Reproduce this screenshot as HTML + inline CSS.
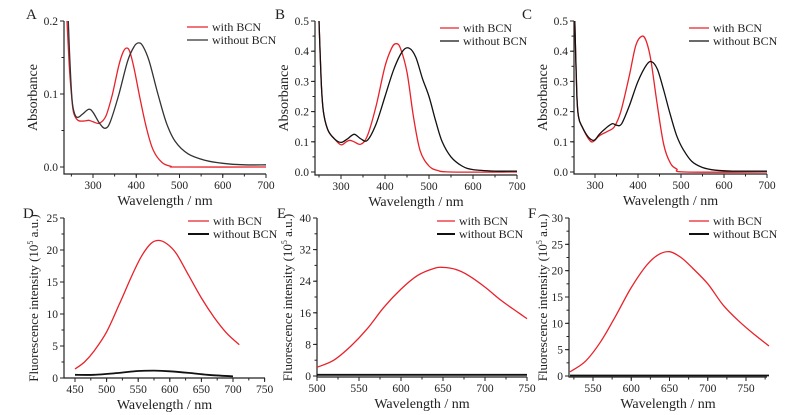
<!DOCTYPE html>
<html><head><meta charset="utf-8"><style>
html,body{margin:0;padding:0;background:#fff}
svg{display:block;font-family:"Liberation Serif","DejaVu Serif",serif}
svg text{font-family:"Liberation Serif","DejaVu Serif",serif;fill:#222}
</style></head><body>
<svg id="fig" width="791" height="415" viewBox="0 0 791 415" font-family="Liberation Serif, serif" xmlns="http://www.w3.org/2000/svg"></svg>
<script>
// ---- data (wavelength nm, value) ----
const aWl_with=[240,245,250,255,265,280,290,300,315,330,345,360,370,378,385,395,410,425,440,460,480,500,700];
const aAbs_with=[0.2,0.14,0.1,0.075,0.064,0.063,0.064,0.062,0.06,0.07,0.1,0.14,0.158,0.163,0.158,0.135,0.09,0.05,0.022,0.006,0.001,0,0];
const aWl_without=[243,247,252,258,265,275,290,300,315,328,340,360,380,395,405,415,430,450,470,490,520,560,600,650,700];
const aAbs_without=[0.2,0.14,0.09,0.072,0.068,0.072,0.079,0.075,0.06,0.053,0.062,0.1,0.145,0.165,0.17,0.166,0.145,0.1,0.06,0.035,0.018,0.009,0.005,0.003,0.003];
const bWl_with=[250,255,260,270,285,300,312,320,330,345,360,380,400,415,425,435,450,465,480,500,520,550,700];
const bAbs_with=[0.5,0.3,0.2,0.14,0.11,0.09,0.1,0.105,0.1,0.092,0.12,0.22,0.35,0.41,0.425,0.41,0.33,0.18,0.07,0.02,0.005,0,0];
const bWl_without=[250,255,260,270,285,300,315,330,345,360,380,400,420,440,455,470,485,500,515,530,550,575,600,650,700];
const bAbs_without=[0.5,0.3,0.2,0.14,0.11,0.098,0.11,0.125,0.11,0.105,0.16,0.25,0.34,0.4,0.41,0.38,0.31,0.25,0.17,0.1,0.05,0.02,0.008,0.003,0.003];
const cWl_with=[253,258,262,270,285,295,310,330,345,360,380,395,410,420,430,445,460,475,490,510,700];
const cAbs_with=[0.5,0.25,0.18,0.15,0.11,0.1,0.12,0.135,0.15,0.2,0.32,0.42,0.45,0.43,0.37,0.22,0.09,0.03,0.01,0,0];
const cWl_without=[253,258,262,270,285,298,310,325,340,350,362,380,400,420,432,445,460,475,490,505,525,550,580,620,700];
const cAbs_without=[0.5,0.25,0.18,0.15,0.115,0.105,0.125,0.145,0.16,0.155,0.16,0.22,0.3,0.355,0.365,0.34,0.27,0.19,0.12,0.075,0.035,0.015,0.006,0.003,0.003];
const dWl_with=[450,465,480,500,520,540,555,570,582,595,610,630,650,670,690,710];
const dFl_with=[1.4,2.5,4.2,7.2,11.5,16,19,21,21.5,21,19.5,16,12.5,9.5,7,5.2];
const dWl_without=[450,480,520,550,575,600,630,660,700];
const dFl_without=[0.5,0.5,0.8,1.1,1.15,1.05,0.8,0.5,0.25];
const eWl_with=[500,520,540,560,580,600,620,640,650,665,680,700,720,740,750];
const eFl_with=[2.2,4,7.5,12,17.5,22,25.5,27.3,27.5,27,25.5,22.5,19,16,14.5];
const eWl_without=[500,750];
const eFl_without=[0.3,0.3];
const fWl_with=[520,540,560,580,600,620,635,650,665,680,700,720,740,760,780];
const fFl_with=[0.8,2.8,6.5,11.5,16.8,21,23,23.6,22.5,20.5,17.5,13.5,10.5,8,5.7];
const fWl_without=[520,780];
const fFl_without=[0.1,0.1];
const absTicksA=[0,0.1,0.2];
const absTicksBC=[0,0.1,0.2,0.3,0.4,0.5];
const wlTicksABC=[300,400,500,600,700];
const flTicksD=[0,5,10,15,20,25];
const flTicksE=[0,8,16,24,32,40];
const flTicksF=[0,5,10,15,20,25,30];
const wlTicksD=[450,500,550,600,650,700,750];
const wlTicksE=[500,550,600,650,700,750];
const wlTicksF=[550,600,650,700,750];

const NS="http://www.w3.org/2000/svg";
const svg=document.getElementById('fig');
function mk(tag,attrs,parent){const e=document.createElementNS(NS,tag);for(const k in attrs)e.setAttribute(k,attrs[k]);(parent||svg).appendChild(e);return e;}
function smooth(pts){let d='M'+pts[0][0].toFixed(1)+','+pts[0][1].toFixed(1);
 for(let i=0;i<pts.length-1;i++){const p0=pts[i-1]||pts[i],p1=pts[i],p2=pts[i+1],p3=pts[i+2]||p2;
  const c1=[p1[0]+(p2[0]-p0[0])/6,p1[1]+(p2[1]-p0[1])/6],c2=[p2[0]-(p3[0]-p1[0])/6,p2[1]-(p3[1]-p1[1])/6];
  d+=' C'+c1[0].toFixed(1)+','+c1[1].toFixed(1)+' '+c2[0].toFixed(1)+','+c2[1].toFixed(1)+' '+p2[0].toFixed(1)+','+p2[1].toFixed(1);}
 return d;}

const panels=[
 {id:'a',letter:'A',lx:26,ly:19,ax:64,ay:174,top:21,right:266,xa:[300,93,700,266],ya:[0,167,0.2,21],xt:wlTicksABC,xm:50,yt:absTicksA,ym:0.05,dec:1,ylab:'Absorbance',ylx:37,leg:[187,211],legy:27,
  s:[[aWl_with,aAbs_with,'#e8222a'],[aWl_without,aAbs_without,'#333']],blk:'#333'},
 {id:'b',letter:'B',lx:275,ly:19,ax:315,ay:175,top:21,right:517,xa:[300,341,700,517],ya:[0,172,0.5,21],xt:wlTicksABC,xm:50,yt:absTicksBC,ym:0.05,dec:1,ylab:'Absorbance',ylx:288,leg:[440,462],legy:28,
  s:[[bWl_with,bAbs_with,'#e8222a'],[bWl_without,bAbs_without,'#111']],blk:'#111'},
 {id:'c',letter:'C',lx:522,ly:19,ax:574,ay:174,top:21,right:767,xa:[300,595,700,767],ya:[0,172,0.5,21],xt:wlTicksABC,xm:50,yt:absTicksBC,ym:0.05,dec:1,ylab:'Absorbance',ylx:547,leg:[689,712],legy:28,
  s:[[cWl_with,cAbs_with,'#e8222a'],[cWl_without,cAbs_without,'#111']],blk:'#111'},
 {id:'d',letter:'D',lx:23,ly:218,ax:64,ay:378,top:218,right:265,xa:[450,75,700,233],ya:[0,378,25,218],xt:wlTicksD,xm:25,yt:flTicksD,ym:2.5,dec:0,ylab:'fl',ylx:38,leg:[188,212],legy:221,
  s:[[dWl_with,dFl_with,'#e8222a'],[dWl_without,dFl_without,'#111']],blk:'#111'},
 {id:'e',letter:'E',lx:277,ly:218,ax:317,ay:377,top:218,right:527,xa:[500,317,750,527],ya:[0,376,40,218],xt:wlTicksE,xm:25,yt:flTicksE,ym:4,dec:0,ylab:'fl',ylx:292,leg:[437,458],legy:221,
  s:[[eWl_with,eFl_with,'#e8222a'],[eWl_without,eFl_without,'#111']],blk:'#111'},
 {id:'f',letter:'F',lx:528,ly:218,ax:569,ay:377,top:218,right:767,xa:[550,593,750,746],ya:[0,376,30,218],xt:wlTicksF,xm:25,yt:flTicksF,ym:2.5,dec:0,ylab:'fl',ylx:547,leg:[689,712],legy:221,
  s:[[fWl_with,fFl_with,'#e8222a'],[fWl_without,fFl_without,'#111']],blk:'#111'}
];

panels.forEach(p=>{
 const g=mk('g',{});
 
 
 const X=v=>p.xa[1]+(v-p.xa[0])*(p.xa[3]-p.xa[1])/(p.xa[2]-p.xa[0]);
 const Y=v=>p.ya[1]+(v-p.ya[0])*(p.ya[3]-p.ya[1])/(p.ya[2]-p.ya[0]);
 const lt=mk('text',{x:p.lx,y:p.ly,'font-size':15},g);lt.textContent=p.letter;
 
 
 const axes=mk('path',{d:`M${p.ax},${p.top}V${p.ay}H${p.right}`,stroke:'#222','stroke-width':1.2,fill:'none'},g);
 
 
 const xv0=p.xa[0]+(p.ax-p.xa[1])*(p.xa[2]-p.xa[0])/(p.xa[3]-p.xa[1]);
 const xv1=p.xa[0]+(p.right-p.xa[1])*(p.xa[2]-p.xa[0])/(p.xa[3]-p.xa[1]);
 for(let v=Math.ceil(xv0/p.xm)*p.xm;v<=xv1+0.01;v+=p.xm){mk('line',{x1:X(v),x2:X(v),y1:p.ay,y2:p.ay+2.5,stroke:'#222','stroke-width':1},g);}
 p.xt.forEach(v=>{mk('line',{x1:X(v),x2:X(v),y1:p.ay,y2:p.ay+4,stroke:'#222','stroke-width':1},g);
  const t=mk('text',{x:X(v),y:p.ay+15,'font-size':11.5,'text-anchor':'middle'},g);t.textContent=v;
  
  });
 const yv1=p.ya[0]+(p.top-p.ya[1])*(p.ya[2]-p.ya[0])/(p.ya[3]-p.ya[1]);
 for(let v=0;v<=yv1+1e-6;v+=p.ym){mk('line',{x1:p.ax-2.5,x2:p.ax,y1:Y(v),y2:Y(v),stroke:'#222','stroke-width':1},g);}
 p.yt.forEach(v=>{mk('line',{x1:p.ax-4,x2:p.ax,y1:Y(v),y2:Y(v),stroke:'#222','stroke-width':1},g);
  const t=mk('text',{x:p.ax-6,y:Y(v)+4,'font-size':11.5,'text-anchor':'end'},g);t.textContent=v.toFixed(p.dec);
  
  });
 const cx=(p.ax+p.right)/2, cy=(p.top+p.ay)/2;
 const xt=mk('text',{x:cx,y:p.ay+31,'font-size':14,'text-anchor':'middle'},g);xt.textContent='Wavelength / nm';
 
 
 const yt=mk('text',{x:p.ylx,y:cy,'font-size':14,'text-anchor':'middle',transform:`rotate(-90 ${p.ylx} ${cy})`},g);
 
 
 if(p.ylab==='fl'){yt.setAttribute('font-size',13);yt.innerHTML='Fluorescence intensity (10<tspan dy="-5" font-size="8">5</tspan><tspan dy="5"> a.u.)</tspan>';}
 else yt.textContent=p.ylab;
 p.s.forEach((s,i)=>{const pts=s[0].map((w,k)=>[X(w),Y(s[1][k])]);
  const path=mk('path',{d:smooth(pts),stroke:s[2],'stroke-width':p.letter>='D'&&i==1?1.8:1.3,fill:'none'},g);
  
  });
 ['with BCN','without BCN'].forEach((lab,i)=>{const y=p.legy+i*13;
  const ln=mk('line',{x1:p.leg[0],x2:p.leg[1]-3,y1:y,y2:y,stroke:i==0?'#e8222a':p.blk,'stroke-width':i==1&&p.letter>='D'?2:1.3},g);
  
  
  const t=mk('text',{x:p.leg[1]+1,y:y+4,'font-size':12},g);t.textContent=lab;
  
  });
});
</script>
</body></html>
